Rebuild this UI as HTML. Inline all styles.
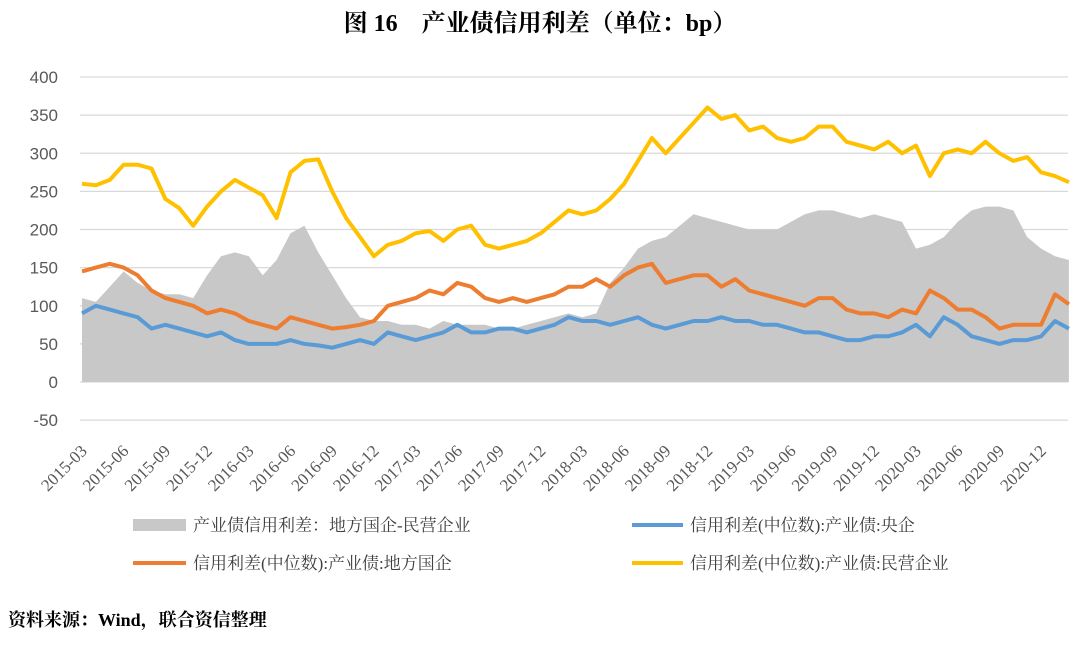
<!DOCTYPE html>
<html><head><meta charset="utf-8"><style>
body{margin:0;background:#fff;width:1080px;height:641px;overflow:hidden;font-family:"Liberation Serif","Noto Serif CJK SC",serif}
</style></head><body>
<svg width="1080" height="641" id="svg">
<text x="540" y="31" text-anchor="middle" font-size="24" font-weight="bold" font-family="Liberation Serif, Noto Serif CJK SC, serif" fill="#000">图 16　产业债信用利差（单位：bp）</text>
<g id="grid"></g><g id="area"></g><g id="lines"></g><g id="yt"></g><g id="xt"></g>
<g font-size="17" font-family="Liberation Serif, Noto Serif CJK SC, serif" fill="#404040">
<g><rect x="133" y="519" width="53" height="12" fill="#c8c8c8"/><text x="193" y="531">产业债信用利差：地方国企-民营企业</text></g>
<g><line x1="632" y1="525" x2="683" y2="525" stroke="#5b9bd5" stroke-width="4"/><text x="690" y="531">信用利差(中位数):产业债:央企</text></g>
<g><line x1="133" y1="563" x2="186" y2="563" stroke="#ed7d31" stroke-width="4"/><text x="193" y="569">信用利差(中位数):产业债:地方国企</text></g>
<g><line x1="632" y1="563" x2="683" y2="563" stroke="#ffc000" stroke-width="4"/><text x="690" y="569">信用利差(中位数):产业债:民营企业</text></g>
</g>
<text x="8" y="626" font-size="18" font-weight="bold" fill="#000">资料来源：Wind，联合资信整理</text>
</svg>
<script>
const tickLabels=["2015-03","2015-06","2015-09","2015-12","2016-03","2016-06","2016-09","2016-12","2017-03","2017-06","2017-09","2017-12","2018-03","2018-06","2018-09","2018-12","2019-03","2019-06","2019-09","2019-12","2020-03","2020-06","2020-09","2020-12"];
const yTicks=[400,350,300,250,200,150,100,50,0,-50];
const yellow=[260,258,265,285,285,280,240,228,205,230,250,265,255,245,215,275,290,292,250,215,190,165,180,185,195,198,185,200,205,180,175,180,185,195,210,225,220,225,240,260,290,320,300,320,340,360,345,350,330,335,320,315,320,335,335,315,310,305,315,300,310,270,300,305,300,315,300,290,295,275,270,262];
const orange=[145,150,155,150,140,120,110,105,100,90,95,90,80,75,70,85,80,75,70,72,75,80,100,105,110,120,115,130,125,110,105,110,105,110,115,125,125,135,125,140,150,155,130,135,140,140,125,135,120,115,110,105,100,110,110,95,90,90,85,95,90,120,110,95,95,85,70,75,75,75,115,102];
const blue=[90,100,95,90,85,70,75,70,65,60,65,55,50,50,50,55,50,48,45,50,55,50,65,60,55,60,65,75,65,65,70,70,65,70,75,85,80,80,75,80,85,75,70,75,80,80,85,80,80,75,75,70,65,65,60,55,55,60,60,65,75,60,85,75,60,55,50,55,55,60,80,70];
const gray=[110,105,125,145,130,120,115,115,110,140,165,170,165,140,160,195,205,170,140,110,85,80,80,75,75,70,80,75,75,75,70,70,75,80,85,90,85,90,130,150,175,185,190,205,220,215,210,205,200,200,200,210,220,225,225,220,215,220,215,210,175,180,190,210,225,230,230,225,190,175,165,160];
const NS="http://www.w3.org/2000/svg";
const x0=82,dx=13.9,yz=382,ys=0.7625;
const X=i=>x0+i*dx, Y=v=>yz-v*ys;
function mk(p,t,a){const e=document.createElementNS(NS,t);for(const k in a)e.setAttribute(k,a[k]);document.getElementById(p).appendChild(e);return e;}
yTicks.forEach(v=>{
 const l=mk('grid','line',{x1:80,x2:1068,y1:Y(v),y2:Y(v),stroke:'#d9d9d9','stroke-width':1.2});
 
 
 const t=mk('yt','text',{x:58,y:Y(v)+6,'text-anchor':'end','font-size':17,fill:'#595959','font-family':'Liberation Sans, sans-serif'});
 t.textContent=v;
 
 
});
tickLabels.forEach((s,k)=>{
 const x=X(k*3)+6,y=452;
 const t=mk('xt','text',{x:x,y:y,'text-anchor':'end','font-size':17,fill:'#595959',transform:`rotate(-45 ${x} ${y})`});
 t.textContent=s;
 
 
});
let d='M'+X(0)+','+Y(0);
gray.forEach((v,i)=>{d+=' L'+X(i).toFixed(1)+','+Y(v).toFixed(1);});
d+=' L'+X(gray.length-1)+','+Y(0)+' Z';
const a=mk('area','path',{d:d,fill:'#c8c8c8'});


[[blue,'#5b9bd5','line-blue-central-soe'],[orange,'#ed7d31','line-orange-local-soe'],[yellow,'#ffc000','line-yellow-private']].forEach(([arr,c,n])=>{
 const p=mk('lines','polyline',{points:arr.map((v,i)=>X(i).toFixed(1)+','+Y(v).toFixed(1)).join(' '),fill:'none',stroke:c,'stroke-width':4,'stroke-linejoin':'round'});
 
 
});
</script>
</body></html>
